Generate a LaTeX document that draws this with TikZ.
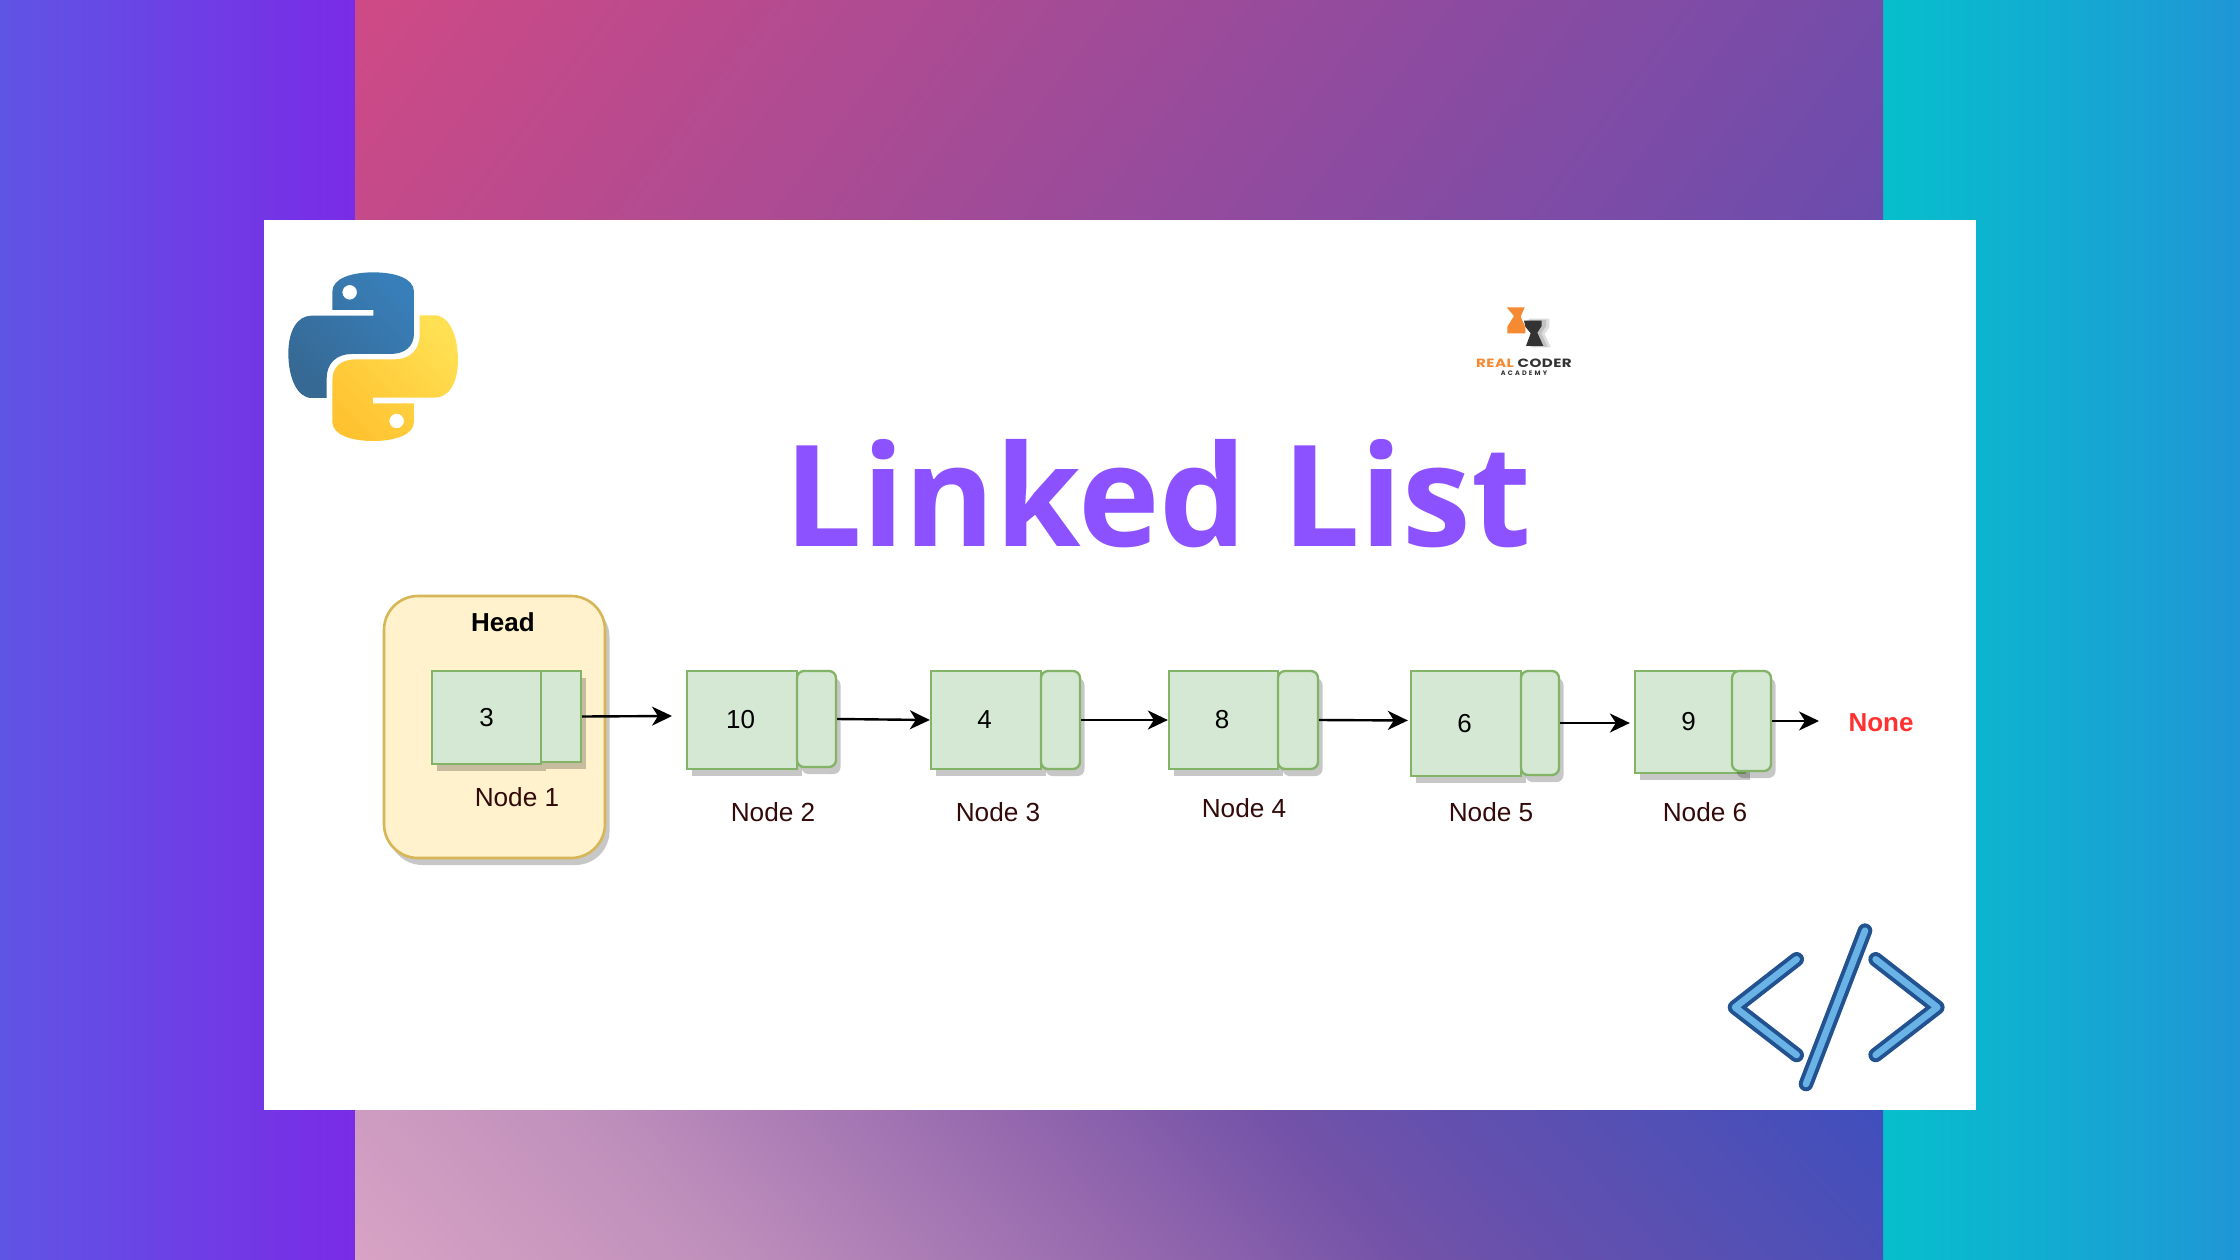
\documentclass[tikz,border=0pt]{standalone}
\usepackage{fontspec}
\setmainfont{Liberation Sans}
\newfontfamily\titlefont{Open Sans}[UprightFont=* Bold]
\newfontfamily\logofont{Poppins}[UprightFont=* Bold,LetterSpace=3]
\usetikzlibrary{arrows.meta,shadows,calc}
\definecolor{bgreen}{HTML}{D5E8D4}
\definecolor{sgreen}{HTML}{82B366}
\definecolor{byellow}{HTML}{FFF2CC}
\definecolor{syellow}{HTML}{D6B656}
\definecolor{labelc}{HTML}{330A0A}
\definecolor{leftA}{HTML}{5F55E4}
\definecolor{leftB}{HTML}{7A2BE6}
\definecolor{rightA}{HTML}{06BFCC}
\definecolor{rightB}{HTML}{2096D6}
\definecolor{topA}{HTML}{CF4A85}
\definecolor{topB}{HTML}{6A4CAE}
\definecolor{purp}{HTML}{8C52FF}
\definecolor{nonec}{HTML}{FF3131}
\definecolor{icona}{HTML}{22528F}
\definecolor{iconb}{HTML}{69B3E7}
\definecolor{orangel}{HTML}{F58A33}
\definecolor{darkl}{HTML}{333333}
\definecolor{pyblueA}{HTML}{387EB8}
\definecolor{pyblueB}{HTML}{366994}
\definecolor{pyyelA}{HTML}{FFE052}
\definecolor{pyyelB}{HTML}{FFC331}
\pgfdeclarehorizontalshading{botband}{100bp}{
  rgb(0bp)=(0.847,0.639,0.769);
  rgb(25bp)=(0.847,0.639,0.769);
  rgb(35.8bp)=(0.753,0.565,0.737);
  rgb(48.5bp)=(0.584,0.408,0.682);
  rgb(56.2bp)=(0.455,0.325,0.659);
  rgb(61.2bp)=(0.392,0.314,0.682);
  rgb(75bp)=(0.247,0.310,0.741);
  rgb(100bp)=(0.247,0.310,0.741)}
\tikzset{
  shade drop/.style={drop shadow={shadow xshift=4.5pt,shadow yshift=-7pt,opacity=.22,fill=black}},
  databox/.style={draw=sgreen,fill=bgreen,line width=2.3pt,shade drop,inner sep=0pt,font=\fontsize{26}{28}\selectfont},
  linkbox/.style={draw=sgreen,fill=bgreen,line width=2.3pt,shade drop,inner sep=0pt,rounded corners=7pt},
  caption/.style={text=labelc,inner sep=0pt,font=\fontsize{26.2}{28}\selectfont},
  linkarrow/.style={line width=2.4pt,-{Stealth[length=20pt,width=19pt,inset=6pt]}},
  iconline/.style={draw=icona,line width=4pt,double=iconb,double distance=6.6pt,line cap=round,line join=round},
}
\begin{document}
\begin{tikzpicture}[x=1pt,y=-1pt]
\useasboundingbox (0,0) rectangle (2240,1260);
% background
\shade[left color=leftA,right color=leftB] (0,0) rectangle (355,1260);
\shade[left color=rightA,right color=rightB] (1883,0) rectangle (2240,1260);
\begin{scope}
\clip (355,0) rectangle (1883,225);
\shade[transform canvas={shift={(1119,110)},rotate=-37},left color=topA,right color=topB] (-677,-800) rectangle (677,800);
\end{scope}
\begin{scope}
\clip (355,1105) rectangle (1883,1260);
\shade[transform canvas={shift={(1119,1182)},rotate=43},shading=botband] (-612,-800) rectangle (612,800);
\end{scope}
\node[fill=white,inner sep=0pt,minimum width=1712pt,minimum height=890pt] (panel) at (1120,665) {};
% python logo
\begin{scope}[shift={(270,250)},x=0.3333pt,y=-0.3333pt]
\shade[even odd rule,left color=pyblueA,right color=pyblueB,shading angle=-45]
 (187,180) -- (310,180) -- (310,197) -- (125,197) .. controls (80,197) and (55,245) .. (55,310)
 .. controls (55,380) and (80,444) .. (125,444) -- (170,444) -- (170,385)
 .. controls (170,340) and (200,312) .. (245,312) -- (360,312)
 .. controls (405,312) and (432,290) .. (432,250) -- (432,125)
 .. controls (432,85) and (375,67) .. (310,67) .. controls (245,67) and (187,85) .. (187,125) -- cycle
 (239,127) circle [radius=22];
\shade[even odd rule,left color=pyyelA,right color=pyyelB,shading angle=-45]
 (432,460) -- (309,460) -- (309,443) -- (494,443) .. controls (539,443) and (564,395) .. (564,330)
 .. controls (564,260) and (539,196) .. (494,196) -- (449,196) -- (449,255)
 .. controls (449,300) and (419,328) .. (374,328) -- (259,328)
 .. controls (214,328) and (187,350) .. (187,390) -- (187,515)
 .. controls (187,555) and (244,573) .. (309,573) .. controls (374,573) and (432,555) .. (432,515) -- cycle
 (380,513) circle [radius=22];
\end{scope}
% academy logo
\begin{scope}[shift={(1450,290)},x=0.3333pt,y=-0.3333pt]
\fill[black,opacity=.13] (236,86) -- (298,86) -- (298,112) -- (284,132) -- (302,172) -- (244,172) -- (258,132) -- (240,110) -- cycle;
\fill[black,opacity=.13] (230,90) -- (288,90) -- (288,108) -- (274,130) -- (292,170) -- (238,170) -- (252,130) -- (236,110) -- cycle;
\fill[orangel] (170,52) -- (224,52) -- (212,80) -- (226,112) -- (226,130) -- (172,130) -- (172,110) -- (192,78) -- cycle;
\fill[darkl] (222,92) -- (275,92) -- (275,108) -- (262,128) -- (280,168) -- (228,168) -- (242,130) -- (226,110) -- cycle;
\end{scope}
\node[inner sep=0pt,font=\logofont\fontsize{12}{14}\selectfont] (brand) at (1524,363.5) {\scalebox{1.26}[1]{\textcolor{orangel}{REAL} \textcolor{darkl}{CODER}}};
\node[inner sep=0pt,text=darkl,font=\logofont\fontsize{6.5}{8}\selectfont\addfontfeature{LetterSpace=34}] (academy) at (1524,373.5) {ACADEMY};
% title
\node[anchor=base,inner sep=0pt,text=purp,font=\titlefont\fontsize{141}{150}\selectfont] (title) at (1158,546) {\scalebox{0.979}[1]{Linked List}};
% head container
\node[draw=syellow,fill=byellow,line width=2.6pt,rounded corners=34pt,shade drop,minimum width=221pt,minimum height=262pt,inner sep=0pt] (head) at (494.5,727) {};
\node[inner sep=0pt,font=\bfseries\fontsize{26}{28}\selectfont] (headlabel) at (503,622) {Head};
% node 1
\node[databox,minimum width=109pt,minimum height=93pt] (b1) at (486.5,717.5) {3};
\node[databox,minimum width=40pt,minimum height=91pt] (p1) at (561,716.5) {};
\node[caption] (c1) at (517,797) {Node 1};
% node 2
\node[databox,minimum width=110pt,minimum height=98pt] (b2) at (742,720) {\kern-3pt 10};
\node[linkbox,minimum width=39pt,minimum height=96pt] (p2) at (816.5,719) {};
\node[caption] (c2) at (773,812) {Node 2};
% node 3
\node[databox,minimum width=110pt,minimum height=98pt] (b3) at (986,720) {\kern-3pt 4};
\node[linkbox,minimum width=39pt,minimum height=98pt] (p3) at (1060.5,720) {};
\node[caption] (c3) at (998,812) {Node 3};
% node 4
\node[databox,minimum width=109pt,minimum height=98pt] (b4) at (1223.5,720) {\kern-3pt 8};
\node[linkbox,minimum width=40pt,minimum height=98pt] (p4) at (1298,720) {};
\node[caption] (c4) at (1244,808) {Node 4};
% node 5
\node[databox,minimum width=110pt,minimum height=105pt] (b5) at (1466,723.5) {\kern-3pt 6};
\node[linkbox,minimum width=38pt,minimum height=104pt] (p5) at (1540,723) {};
\node[caption] (c5) at (1491,812) {Node 5};
% node 6
\node[databox,minimum width=110pt,minimum height=102pt] (b6) at (1690,722) {\kern-3pt 9};
\node[linkbox,minimum width=39pt,minimum height=100pt] (p6) at (1751.5,721) {};
\node[caption] (c6) at (1705,812) {Node 6};
% none
\node[inner sep=0pt,text=nonec,font=\bfseries\fontsize{26}{28}\selectfont] (none) at (1881,723) {None};
% connectors
\coordinate (e1) at (672,716);
\coordinate (e6) at (1819,721);
\draw[linkarrow] (p1.east) -- (e1);
\draw[linkarrow] (p2.east) -- (b3.west);
\draw[linkarrow] (p3.east) -- (b4.west);
\draw[linkarrow,shorten >=2pt] (p4.east) -- ([yshift=3pt]b5.west);
\draw[linkarrow,shorten >=4pt] (p5.east) -- ([yshift=-1pt]b6.west);
\draw[linkarrow] (p6.east) -- (e6);
% code icon
\begin{scope}[shift={(1700,900)},x=0.3333pt,y=-0.3333pt]
\draw[iconline] (290,178) -- (105,322) -- (290,465);
\draw[iconline] (495,92) -- (318,552);
\draw[iconline] (527,178) -- (712,322) -- (527,465);
\end{scope}
\end{tikzpicture}
\end{document}
